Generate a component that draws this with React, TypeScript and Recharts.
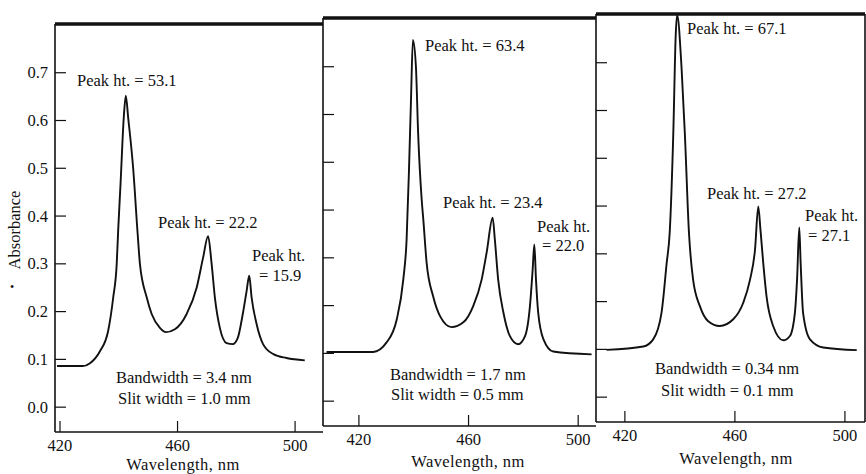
import { LineChart, Line, XAxis, YAxis } from "recharts";

/* ── Data ──────────────────────────────────────────────── */
const WL_1 = [
  419.0, 427.8, 430.2, 433.6, 436.4, 438.1, 439.3, 439.8, 440.6, 441.7, 442.4, 443.2, 444.9, 446.4, 447.2,
  449.5, 451.2, 454.0, 456.1, 459.1, 463.1, 466.5, 468.7, 470.4, 471.6, 472.7, 474.4, 476.7, 478.8, 480.5,
  482.2, 483.5, 484.4, 485.2, 486.9, 489.1, 492.6, 497.1, 503.3,
];
const ABS_1 = [
  0.086, 0.086, 0.092, 0.117, 0.16, 0.229, 0.3, 0.37, 0.467, 0.606, 0.652, 0.606, 0.5, 0.365, 0.3,
  0.23, 0.195, 0.166, 0.157, 0.163, 0.195, 0.25, 0.313, 0.358, 0.3, 0.23, 0.166, 0.134, 0.132, 0.145,
  0.195, 0.243, 0.275, 0.23, 0.174, 0.132, 0.111, 0.103, 0.098,
];

const WL_2 = [
  408.2, 425.2, 430.1, 433.8, 436.2, 437.4, 438.3, 439.0, 439.7, 440.8, 441.6, 442.9, 443.5, 444.7, 447.1,
  449.6, 453.8, 458.1, 461.7, 464.8, 466.6, 468.8, 469.6, 470.8, 472.7, 475.1, 478.1, 480.6, 482.4, 483.4,
  484.0, 484.6, 485.4, 487.3, 490.9, 504.9,
];
const ABS_2 = [
  0.103, 0.103, 0.123, 0.171, 0.255, 0.338, 0.49, 0.63, 0.756, 0.7, 0.562, 0.422, 0.38, 0.29, 0.219,
  0.178, 0.155, 0.165, 0.199, 0.255, 0.311, 0.384, 0.338, 0.255, 0.186, 0.136, 0.119, 0.136, 0.199, 0.276,
  0.328, 0.255, 0.186, 0.13, 0.104, 0.098,
];

const WL_3 = [
  413.3, 426.7, 430.3, 433.3, 435.2, 436.3, 437.6, 438.5, 439.0, 440.6, 441.8, 443.3, 444.8, 447.3, 450.3,
  454.5, 459.4, 463.0, 465.5, 467.3, 468.5, 469.3, 470.3, 471.5, 473.9, 477.6, 480.0, 481.8, 482.6, 483.4,
  483.9, 484.8, 487.3, 492.1, 504.3,
];
const ABS_3 = [
  0.099, 0.106, 0.121, 0.176, 0.281, 0.345, 0.552, 0.76, 0.8, 0.69, 0.552, 0.344, 0.246, 0.19, 0.159,
  0.149, 0.163, 0.197, 0.246, 0.308, 0.399, 0.35, 0.281, 0.211, 0.149, 0.119, 0.128, 0.176, 0.246, 0.355,
  0.281, 0.176, 0.121, 0.104, 0.0985,
];

const X_TICKS = [420, 460, 500];
const Y_TICKS = [0, 0.1, 0.2, 0.3, 0.4, 0.5, 0.6, 0.7];

const PEAK_NOTES_1 = ["Peak ht. = 53.1", "Peak ht. = 22.2", "Peak ht.", "= 15.9"];
const PEAK_NOTES_2 = ["Peak ht. = 63.4", "Peak ht. = 23.4", "Peak ht.", "= 22.0"];
const PEAK_NOTES_3 = ["Peak ht. = 67.1", "Peak ht. = 27.2", "Peak ht.", "= 27.1"];
const SETTINGS_1 = ["Bandwidth = 3.4 nm", "Slit width = 1.0 mm"];
const SETTINGS_2 = ["Bandwidth = 1.7 nm", "Slit width = 0.5 mm"];
const SETTINGS_3 = ["Bandwidth = 0.34 nm", "Slit width = 0.1 mm"];

const X_TITLE = "Wavelength, nm";
const Y_TITLE = "Absorbance";

/* ── Layout ───────────────────────────────────────────── */
const W = 866;
const H = 474;
const FONT = "'Liberation Serif', 'DejaVu Serif', serif";
const FS = 16.5;
const INK = "#111";
const Y_DOMAIN = [-0.052, 0.802];
const TXT = { fontFamily: FONT, fontSize: FS };

const PANELS = [
  {
    wl: WL_1, abs: ABS_1, notes: [...PEAK_NOTES_1, ...SETTINGS_1],
    left: 55, right: 323, top: 24, bottom: 432, xDomain: [418.3, 509.5], yLabels: true,
    notePos: [[77, 80], [158, 222], [252, 255], [259, 275], [116, 377], [118, 398]],
    titlePos: [183, 464],
  },
  {
    wl: WL_2, abs: ABS_2, notes: [...PEAK_NOTES_2, ...SETTINGS_2],
    left: 323, right: 596, top: 18, bottom: 426, xDomain: [406.9, 506.5], yLabels: false,
    notePos: [[425, 45], [443, 202], [537, 226], [542, 245], [390, 374], [391, 394]],
    titlePos: [468, 461],
  },
  {
    wl: WL_3, abs: ABS_3, notes: [...PEAK_NOTES_3, ...SETTINGS_3],
    left: 596, right: 865, top: 14, bottom: 422, xDomain: [409.5, 507.3], yLabels: false,
    notePos: [[687, 28], [707, 193], [805, 215], [808, 235], [655, 368], [661, 390]],
    titlePos: [736, 458],
  },
];

const Y_MARGIN = 7;
const X_MARGIN = 12;

const yTick = (withLabel: boolean) => (props: any) => {
  const { x, y, payload } = props;
  const ax = x + Y_MARGIN;
  return (
    <g>
      <line x1={ax} x2={ax + 11} y1={y} y2={y} stroke={INK} strokeWidth={1.2} />
      {withLabel && (
        <text x={x} y={y} textAnchor="end" dominantBaseline="central" style={TXT} fill={INK}>
          {Number(payload.value).toFixed(1)}
        </text>
      )}
    </g>
  );
};

const xTick = (props: any) => {
  const { x, y, payload } = props;
  const ay = y - X_MARGIN;
  return (
    <g>
      <line x1={x} x2={x} y1={ay} y2={ay - 11} stroke={INK} strokeWidth={1.2} />
      <text x={x} y={y + 1} textAnchor="middle" dominantBaseline="central" style={TXT} fill={INK}>
        {payload.value}
      </text>
    </g>
  );
};

function Panel({ p, last }: { p: (typeof PANELS)[number]; last: boolean }) {
  const data = p.wl.map((w, i) => ({ wl: w, a: p.abs[i] }));
  // axes need a non-zero size to be drawn, so give each one 1px and take it out of the margin
  return (
    <div style={{ position: "absolute", left: 0, top: 0 }}>
      <LineChart
        width={W}
        height={H}
        data={data}
        margin={{
          left: p.left - 1,
          right: W - p.right - (last ? 1 : 0),
          top: p.top - 1,
          bottom: H - p.bottom - 1,
        }}
      >
        <XAxis
          dataKey="wl"
          type="number"
          domain={p.xDomain}
          allowDataOverflow
          ticks={X_TICKS}
          height={1}
          tickSize={0}
          tickMargin={X_MARGIN}
          tickLine={false}
          tick={xTick}
          axisLine={{ stroke: INK, strokeWidth: 1.6 }}
        />
        <XAxis
          xAxisId="top"
          orientation="top"
          type="number"
          domain={p.xDomain}
          height={1}
          tick={false}
          tickLine={false}
          axisLine={{ stroke: INK, strokeWidth: 3.5 }}
        />
        <YAxis
          type="number"
          domain={Y_DOMAIN}
          allowDataOverflow
          ticks={Y_TICKS}
          width={1}
          tickSize={0}
          tickMargin={Y_MARGIN}
          tickLine={false}
          tick={yTick(p.yLabels)}
          axisLine={{ stroke: INK, strokeWidth: 1.6 }}
        />
        {last && (
          <YAxis
            yAxisId="r"
            orientation="right"
            type="number"
            domain={Y_DOMAIN}
            width={1}
            tick={false}
            tickLine={false}
            axisLine={{ stroke: INK, strokeWidth: 1.6 }}
          />
        )}
        <Line
          type="monotone"
          dataKey="a"
          stroke={INK}
          strokeWidth={1.9}
          dot={false}
          isAnimationActive={false}
        />
      </LineChart>
    </div>
  );
}

export default function App() {
  return (
    <div style={{ position: "fixed", left: 0, top: 0, width: W, height: H, background: "#fff", overflow: "hidden" }}>
      {PANELS.map((p, i) => (
        <Panel key={i} p={p} last={i === PANELS.length - 1} />
      ))}
      <svg width={W} height={H} style={{ position: "absolute", left: 0, top: 0 }}>
        <g style={TXT} fill={INK}>
          {PANELS.map((p, i) => (
            <g key={i}>
              {p.notes.map((t, j) => (
                <text key={j} x={p.notePos[j][0]} y={p.notePos[j][1]} dominantBaseline="central">
                  {t}
                </text>
              ))}
              <text x={p.titlePos[0]} y={p.titlePos[1]} textAnchor="middle" dominantBaseline="central" letterSpacing={0.4}>
                {X_TITLE}
              </text>
            </g>
          ))}
          <text x={14} y={230} textAnchor="middle" dominantBaseline="central" transform="rotate(-90 14 230)">
            {Y_TITLE}
          </text>
          <text x={12} y={287} textAnchor="middle" dominantBaseline="central" style={{ fontSize: 12 }}>
            •
          </text>
        </g>
      </svg>
    </div>
  );
}
